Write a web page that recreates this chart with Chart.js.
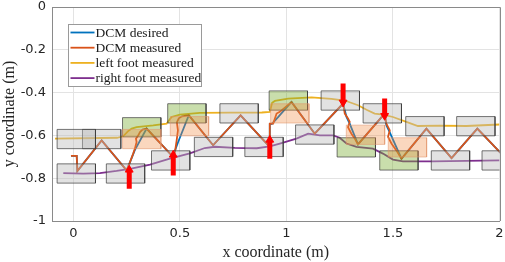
<!DOCTYPE html>
<html>
<head>
<meta charset="utf-8">
<script src="https://cdn.jsdelivr.net/npm/chart.js@4.4.0/dist/chart.umd.min.js"></script>
<style>
    html, body { margin: 0; padding: 0; background: #fff; }
</style>
</head>
<body>
<canvas id="myChart" width="505" height="262"></canvas>
<script>
// Datos (metros)
const seriesLabels = ['DCM desired', 'DCM measured', 'left foot measured', 'right foot measured'];
const xTicks = [0, 0.5, 1, 1.5, 2];
const yTicks = [0, -0.2, -0.4, -0.6, -0.8, -1];

const dcmDesiredX = [-0.011, 0.016, 0.019, 0.133, 0.250, 0.257, 0.288, 0.344, 0.469, 0.469, 0.492, 0.542, 0.656, 0.785, 0.922, 0.922, 0.933, 0.961, 1.024, 1.133, 1.266, 1.282, 1.297, 1.336, 1.461, 1.469, 1.484, 1.540, 1.657, 1.775, 1.896, 2.005];
const dcmDesiredY = [-0.696, -0.696, -0.767, -0.623, -0.763, -0.748, -0.670, -0.568, -0.701, -0.693, -0.631, -0.506, -0.646, -0.506, -0.654, -0.548, -0.545, -0.515, -0.444, -0.592, -0.451, -0.514, -0.545, -0.642, -0.498, -0.553, -0.584, -0.709, -0.568, -0.706, -0.568, -0.682];

const dcmMeasuredX = [-0.011, 0.016, 0.019, 0.133, 0.250, 0.266, 0.281, 0.289, 0.297, 0.294, 0.305, 0.313, 0.325, 0.344, 0.469, 0.477, 0.485, 0.491, 0.486, 0.495, 0.510, 0.542, 0.656, 0.785, 0.922, 0.922, 0.938, 0.954, 0.969, 1.024, 1.133, 1.266, 1.274, 1.289, 1.297, 1.289, 1.305, 1.321, 1.336, 1.461, 1.469, 1.485, 1.477, 1.493, 1.516, 1.540, 1.657, 1.775, 1.896, 2.005];
const dcmMeasuredY = [-0.696, -0.696, -0.767, -0.623, -0.763, -0.725, -0.685, -0.662, -0.631, -0.615, -0.600, -0.584, -0.573, -0.568, -0.701, -0.678, -0.623, -0.576, -0.539, -0.520, -0.511, -0.506, -0.646, -0.506, -0.654, -0.545, -0.545, -0.498, -0.490, -0.444, -0.592, -0.451, -0.498, -0.521, -0.537, -0.561, -0.592, -0.615, -0.642, -0.498, -0.545, -0.576, -0.607, -0.638, -0.670, -0.709, -0.568, -0.706, -0.568, -0.682];

const leftFootX = [-0.086, 0.205, 0.234, 0.256, 0.274, 0.297, 0.375, 0.438, 0.461, 0.500, 0.594, 0.735, 0.885, 0.922, 0.933, 0.946, 1.008, 1.118, 1.211, 1.274, 1.336, 1.376, 1.414, 1.453, 1.500, 1.563, 1.617, 1.719, 1.844, 2.000];
const leftFootY = [-0.615, -0.611, -0.604, -0.581, -0.568, -0.561, -0.553, -0.545, -0.514, -0.503, -0.495, -0.494, -0.493, -0.490, -0.448, -0.439, -0.428, -0.422, -0.429, -0.437, -0.459, -0.480, -0.498, -0.503, -0.514, -0.537, -0.556, -0.554, -0.556, -0.549];

const rightFootX = [-0.047, 0.047, 0.125, 0.203, 0.266, 0.360, 0.453, 0.547, 0.617, 0.664, 0.758, 0.861, 0.922, 0.969, 1.047, 1.102, 1.157, 1.219, 1.250, 1.282, 1.329, 1.406, 1.453, 1.500, 1.547, 1.688, 1.844, 2.000];
const rightFootY = [-0.776, -0.779, -0.776, -0.766, -0.756, -0.737, -0.709, -0.684, -0.659, -0.653, -0.658, -0.660, -0.651, -0.638, -0.615, -0.592, -0.600, -0.600, -0.611, -0.638, -0.654, -0.662, -0.685, -0.713, -0.721, -0.721, -0.719, -0.717];

// Huellas (centros de cada pie)
const footLength = 0.18;
const footWidth = 0.09;
const plannedX = [0.014, 0.133, 0.014, 0.245, 0.457, 0.658, 0.778, 0.895, 1.133, 1.253, 1.450, 1.650, 1.770, 1.889, 2.008];
const plannedY = [-0.617, -0.617, -0.778, -0.778, -0.717, -0.654, -0.497, -0.654, -0.596, -0.437, -0.497, -0.557, -0.717, -0.557, -0.717];
const adaptedX = [0.321, 0.533, 1.009, 1.328, 1.528];
const adaptedY = [-0.562, -0.497, -0.437, -0.656, -0.717];
const originalX = [0.321, 0.545, 1.016, 1.371, 1.568];
const originalY = [-0.617, -0.557, -0.497, -0.597, -0.656];

// Empujes: x, inicio y punta de la flecha
const pushX = [0.2625, 0.469, 0.922, 1.266, 1.461];
const pushFrom = [-0.849, -0.787, -0.709, -0.357, -0.428];
const pushTo = [-0.761, -0.691, -0.621, -0.446, -0.508];

const seriesColors = ['#0072BD', '#D95319', '#EDB120', '#7E2F8E'];

function toPoints(xs, ys) {
    return xs.map((x, i) => ({ x: x, y: ys[i] }));
}

function footRect(cx, cy) {
    const l = footLength / 2, w = footWidth / 2;
    return [
        { x: cx - l, y: cy + w }, { x: cx + l, y: cy + w },
        { x: cx + l, y: cy - w }, { x: cx - l, y: cy - w },
        { x: cx - l, y: cy + w }
    ];
}

const datasets = [];

// Líneas principales
[[dcmDesiredX, dcmDesiredY, 6], [dcmMeasuredX, dcmMeasuredY, 5],
 [leftFootX, leftFootY, 5], [rightFootX, rightFootY, 5]].forEach((s, i) => {
    datasets.push({
        label: seriesLabels[i],
        data: toPoints(s[0], s[1]),
        borderColor: seriesColors[i],
        borderWidth: 1.8,
        pointRadius: 0,
        fill: false,
        order: s[2]
    });
});

// Rectángulos de los pies
function addFeet(xs, ys, fillColor, edgeColor) {
    xs.forEach((x, i) => {
        datasets.push({
            label: '',
            data: footRect(x, ys[i]),
            borderColor: edgeColor,
            backgroundColor: fillColor,
            borderWidth: 1,
            pointRadius: 0,
            fill: 'shape',
            order: 2
        });
    });
}
addFeet(plannedX, plannedY, 'rgba(185,185,185,0.42)', 'rgba(60,60,60,0.7)');
addFeet(originalX, originalY, 'rgba(240,140,70,0.35)', 'rgba(225,150,110,0.55)');
addFeet(adaptedX, adaptedY, 'rgba(119,172,48,0.4)', 'rgba(60,60,60,0.7)');

// Flechas rojas
pushX.forEach((x, i) => {
    datasets.push({
        label: '',
        data: [{ x: x, y: pushFrom[i] }, { x: x, y: pushTo[i] }],
        borderColor: '#ff0000',
        borderWidth: 5,
        pointRadius: [0, 4.5],
        pointStyle: 'triangle',
        pointRotation: pushTo[i] > pushFrom[i] ? 0 : 180,
        pointBackgroundColor: '#ff0000',
        pointBorderColor: '#ff0000',
        pointBorderWidth: 1,
        fill: false,
        order: 0
    });
});

// Marco superior y derecho
const boxPlugin = {
    id: 'marco',
    afterDatasetsDraw(chart) {
        const { ctx, chartArea: a } = chart;
        ctx.save();
        ctx.strokeStyle = '#8a8a8a';
        ctx.lineWidth = 1;
        ctx.beginPath();
        ctx.moveTo(Math.round(a.left), Math.round(a.top) + 0.5);
        ctx.lineTo(Math.round(a.right) + 0.5, Math.round(a.top) + 0.5);
        ctx.lineTo(Math.round(a.right) + 0.5, Math.round(a.bottom));
        ctx.stroke();
        ctx.restore();
    }
};

// Leyenda dentro del área
const legendPlugin = {
    id: 'leyenda',
    afterDraw(chart) {
        const { ctx, chartArea } = chart;
        const x0 = Math.round(chartArea.left + 16) + 0.5;
        const y0 = Math.round(chartArea.top + 16.5) + 0.5;
        ctx.save();
        ctx.fillStyle = '#ffffff';
        ctx.fillRect(x0, y0, 133, 62);
        ctx.strokeStyle = '#9a9a9a';
        ctx.lineWidth = 1;
        ctx.strokeRect(x0, y0, 133, 62);
        ctx.font = '13.5px "Liberation Serif"';
        ctx.textBaseline = 'middle';
        seriesLabels.forEach((label, i) => {
            const y = y0 + 8 + i * 15.2;
            ctx.strokeStyle = seriesColors[i];
            ctx.lineWidth = 1.8;
            ctx.beginPath();
            ctx.moveTo(x0 + 2, y);
            ctx.lineTo(x0 + 26, y);
            ctx.stroke();
            ctx.fillStyle = '#1a1a1a';
            ctx.fillText(label, x0 + 27, y + 0.5);
        });
        ctx.restore();
    }
};

const tickFont = { family: 'DejaVu Sans', size: 13 };
const titleFont = { family: 'Liberation Serif', size: 16 };

const ctx = document.getElementById('myChart').getContext('2d');
const myChart = new Chart(ctx, {
    type: 'line',
    data: { datasets: datasets },
    options: {
        responsive: false,
        animation: false,
        events: [],
        layout: { padding: { top: 7, right: 5, left: 0, bottom: 0 } },
        plugins: {
            legend: { display: false },
            tooltip: { enabled: false }
        },
        scales: {
            x: {
                type: 'linear',
                min: -0.1,
                max: 2,
                afterBuildTicks: s => { s.ticks = xTicks.map(v => ({ value: v })); },
                afterFit: s => { s.height = 41; s.paddingLeft = 0; s.paddingRight = 0; },
                ticks: { font: tickFont, color: '#262626', padding: 5, maxRotation: 0,
                         callback: v => String(v) },
                grid: { color: '#e3e3e3', drawTicks: false },
                border: { color: '#8a8a8a' },
                title: { display: true, text: 'x coordinate (m)', font: titleFont,
                         color: '#262626', padding: { top: 0, bottom: 0 } }
            },
            y: {
                type: 'linear',
                min: -1,
                max: 0,
                afterBuildTicks: s => { s.ticks = yTicks.map(v => ({ value: v })); },
                afterFit: s => { s.width = 52; s.paddingTop = 0; s.paddingBottom = 0; },
                ticks: { font: tickFont, color: '#262626', padding: 6,
                         callback: v => String(v) },
                grid: { color: '#e3e3e3', drawTicks: false },
                border: { color: '#8a8a8a' },
                title: { display: true, text: 'y coordinate (m)', font: titleFont,
                         color: '#262626', padding: { top: 0, bottom: 0 } }
            }
        }
    },
    plugins: [boxPlugin, legendPlugin]
});
</script>
</body>
</html>
